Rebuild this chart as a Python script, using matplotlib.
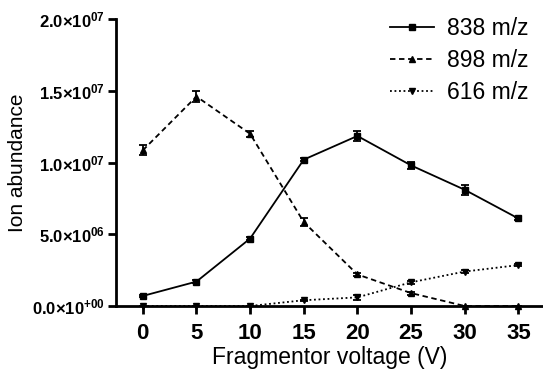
import matplotlib.pyplot as plt
from matplotlib.lines import Line2D

plt.rcParams['font.family'] = ['Liberation Sans', 'DejaVu Sans']
plt.rcParams['mathtext.fontset'] = 'custom'
plt.rcParams['mathtext.rm'] = 'Liberation Sans'
plt.rcParams['mathtext.bf'] = 'Liberation Sans:bold'

# data
voltage = [0, 5, 10, 15, 20, 25, 30, 35]
mz838 = [0.7e6, 1.7e6, 4.7e6, 10.2e6, 11.85e6, 9.8e6, 8.1e6, 6.1e6]
mz838_err = [0.1e6, 0.1e6, 0.1e6, 0.1e6, 0.35e6, 0.25e6, 0.35e6, 0.1e6]
mz898 = [10.85e6, 14.6e6, 12.0e6, 5.85e6, 2.2e6, 0.9e6, 0.0, 0.0]
mz898_err = [0.35e6, 0.4e6, 0.2e6, 0.25e6, 0.1e6, 0.1e6, 0.0, 0.0]
mz616 = [0.0, 0.0, 0.0, 0.4e6, 0.6e6, 1.65e6, 2.4e6, 2.85e6]
mz616_err = [0.0, 0.0, 0.0, 0.05e6, 0.2e6, 0.1e6, 0.1e6, 0.05e6]

yticks = [0, 5e6, 1e7, 1.5e7, 2e7]
ylabels = [r'$\mathbf{0.0{\times}10^{+00}}$', r'$\mathbf{5.0{\times}10^{06}}$',
           r'$\mathbf{1.0{\times}10^{07}}$', r'$\mathbf{1.5{\times}10^{07}}$',
           r'$\mathbf{2.0{\times}10^{07}}$']

fig = plt.figure(figsize=(5.43, 3.70), dpi=100)
ax = fig.add_axes([0.2136, 0.173, 0.7864, 0.7756])

styles = [(mz838, mz838_err, '-', 's', '838 m/z'),
          (mz898, mz898_err, (0, (3, 2)), '^', '898 m/z'),
          (mz616, mz616_err, (0, (1, 1.5)), 'v', '616 m/z')]
handles = []
for vals, err, ls, mk, lab in styles:
    ax.errorbar(voltage, vals, yerr=err, color='black', ls=ls, lw=1.3,
                marker=mk, ms=5, capsize=3, elinewidth=1.3, capthick=1.3,
                clip_on=False, zorder=3)
    handles.append(Line2D([], [], color='black', ls=ls, lw=1.3, marker=mk,
                          ms=4, label=lab))

ax.set_xlim(-2.5, 37.3)
ax.set_ylim(0, 2e7)
ax.set_xticks(voltage)
ax.set_xticklabels([str(v) for v in voltage], fontweight='bold', fontsize=16)
ax.set_yticks(yticks)
ax.set_yticklabels(ylabels, fontsize=12)

for s in ['top', 'right']:
    ax.spines[s].set_visible(False)
for s in ['left', 'bottom']:
    ax.spines[s].set_linewidth(2)
ax.tick_params(width=2, length=6, direction='out')
ax.tick_params(axis='x', pad=6)
ax.tick_params(axis='y', pad=2)

ax.set_xlabel('Fragmentor voltage (V)', fontsize=16.5, labelpad=2)
ax.set_ylabel('Ion abundance', fontsize=15, labelpad=4)

ax.legend(handles=handles, loc='upper right', frameon=False, fontsize=16.5,
          handlelength=1.9, bbox_to_anchor=(1.015, 1.08), labelspacing=0.4,
          handletextpad=0.6)

fig.savefig('out.png', dpi=100)
